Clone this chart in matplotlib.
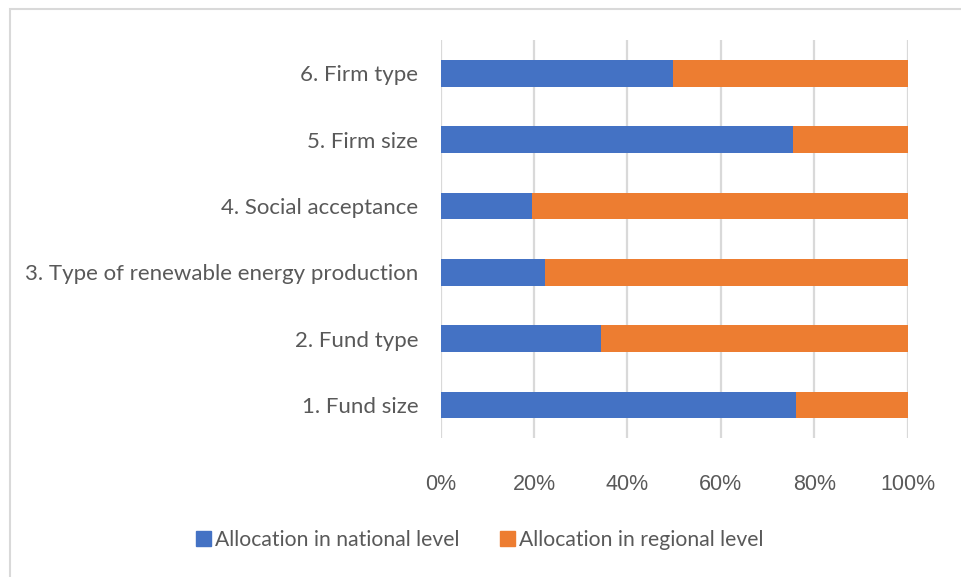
import matplotlib
matplotlib.use("Agg")
import matplotlib.pyplot as plt
from matplotlib.patches import Rectangle, Patch
from matplotlib.ticker import PercentFormatter

# category order: bottom -> top
categories = [
    "1. Fund size",
    "2. Fund type",
    "3. Type of renewable energy production",
    "4. Social acceptance",
    "5. Firm size",
    "6. Firm type",
]
national = [76.1, 34.3, 22.4, 19.6, 75.5, 49.8]
regional = [100 - v for v in national]

BLUE = "#4472c4"
ORANGE = "#ed7d31"
GRID = "#d9d9d9"
LABEL = "#595959"

fig = plt.figure(figsize=(9.61, 5.77), dpi=100)
ax = fig.add_axes([0.4586, 0.2405, 0.4859, 0.6897])

y = range(len(categories))
ax.barh(y, national, height=0.4, color=BLUE, zorder=3,
        label="Allocation in national level")
ax.barh(y, regional, left=national, height=0.4, color=ORANGE, zorder=3,
        label="Allocation in regional level")

ax.set_xlim(0, 100)
ax.set_ylim(-0.5, len(categories) - 0.5)
ax.set_xticks(range(0, 101, 20))
ax.xaxis.set_major_formatter(PercentFormatter(decimals=0))
ax.set_yticks(list(y))
ax.set_yticklabels(categories, family="Lato", fontsize=16, color=LABEL)
ax.tick_params(axis="y", length=0, pad=16)
ax.tick_params(axis="x", length=0, pad=26, labelsize=15.5, labelcolor=LABEL)
for t in ax.get_xticklabels():
    t.set_family("Liberation Sans")

ax.grid(axis="x", color=GRID, lw=1.6, zorder=0)
for s in ax.spines.values():
    s.set_visible(False)

# light frame around the chart area
fig.patches.append(Rectangle((10 / 961, -0.2), 1.5, 1.2 - 9 / 577,
                             transform=fig.transFigure, fill=False,
                             edgecolor=GRID, lw=1.5))

handles = [Patch(color=BLUE, label="Allocation in national level"),
           Patch(color=ORANGE, label="Allocation in regional level")]
fig.legend(handles=handles, loc="center", bbox_to_anchor=(0.499, 0.064),
           ncol=2, frameon=False, handlelength=0.72, handleheight=0.72,
           handletextpad=0.2, columnspacing=1.9,
           prop={"family": "Lato", "size": 15.2}, labelcolor=LABEL)

fig.savefig("out.png", dpi=100, facecolor="white")
